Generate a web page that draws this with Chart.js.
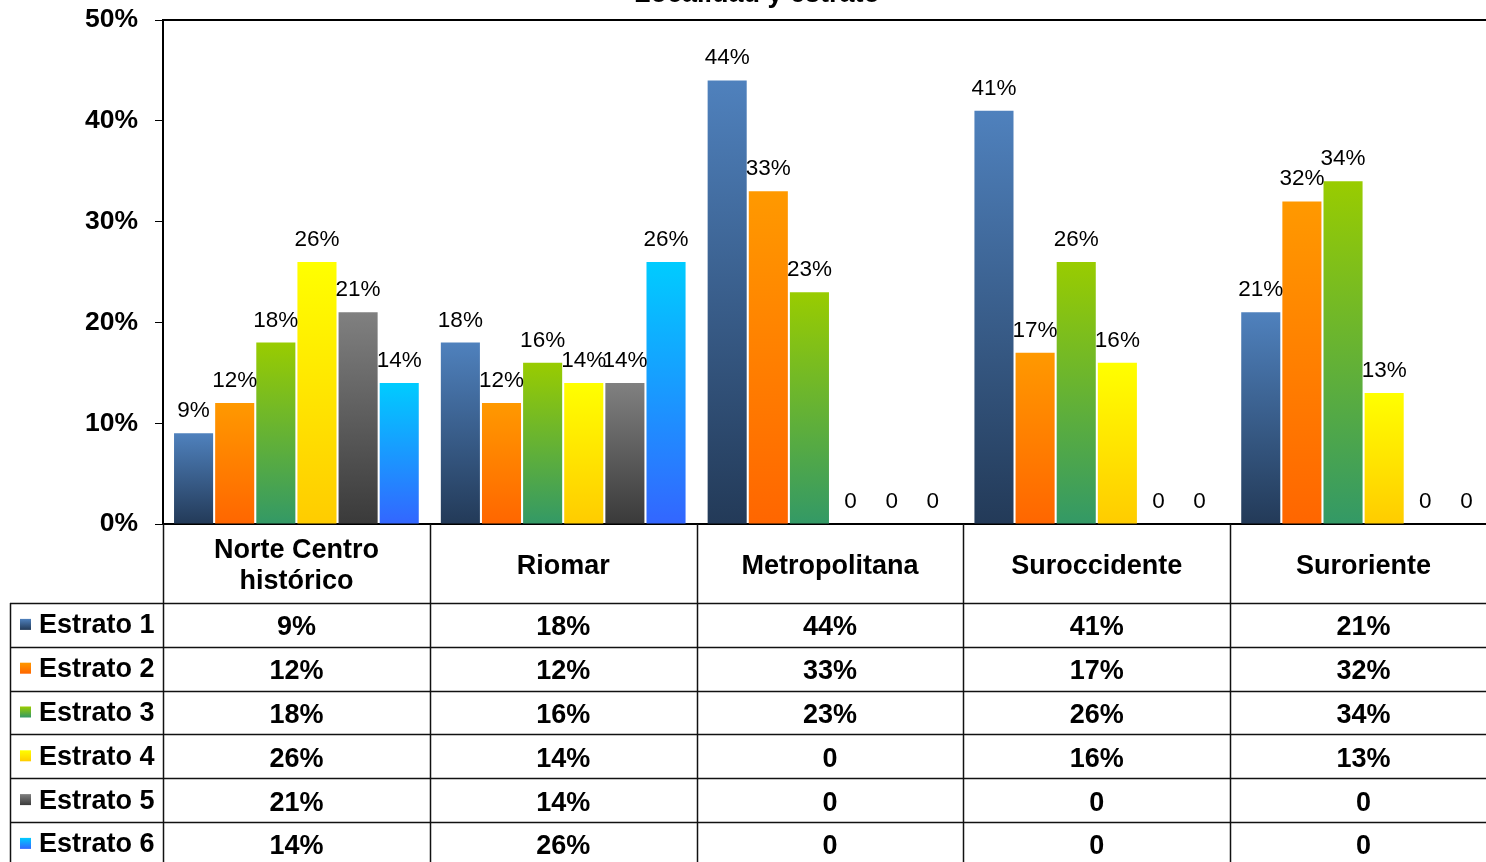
<!DOCTYPE html>
<html>
<head>
<meta charset="utf-8">
<script src="https://cdn.jsdelivr.net/npm/chart.js@4"></script>
<style>
  html, body { margin: 0; padding: 0; overflow: hidden; background: #fff; }
  #wrap { position: relative; width: 1497px; height: 862px; }
</style>
</head>
<body>
<div id="wrap"><canvas id="chart1" width="1497" height="862"></canvas></div>
<script>
'use strict';

// data
var titleText = 'Localidad y estrato';
var categories = ['Norte Centro histórico', 'Riomar', 'Metropolitana', 'Suroccidente', 'Suroriente'];
var categoryLines = [['Norte Centro', 'histórico'], ['Riomar'], ['Metropolitana'], ['Suroccidente'], ['Suroriente']];
var seriesNames = ['Estrato 1', 'Estrato 2', 'Estrato 3', 'Estrato 4', 'Estrato 5', 'Estrato 6'];
var estrato1 = [0.09, 0.18, 0.44, 0.41, 0.21];
var estrato2 = [0.12, 0.12, 0.33, 0.17, 0.32];
var estrato3 = [0.18, 0.16, 0.23, 0.26, 0.34];
var estrato4 = [0.26, 0.14, 0, 0.16, 0.13];
var estrato5 = [0.21, 0.14, 0, 0, 0];
var estrato6 = [0.14, 0.26, 0, 0, 0];
var yTicks = [0, 0.1, 0.2, 0.3, 0.4, 0.5];

// gradient colours (top, bottom) per series
var topColors = ['#4f81bd', '#ff9900', '#99cc00', '#ffff00', '#808080', '#00ccff'];
var bottomColors = ['#233a58', '#ff6600', '#339966', '#ffcc00', '#3a3a3a', '#3366ff'];

var allSeries = [estrato1, estrato2, estrato3, estrato4, estrato5, estrato6];
var boldFont = 'bold 27px "Liberation Sans", Arial, sans-serif';

function pctText(v){
  if(v === 0){
    return '0';
  }
  return Math.round(v * 100) + '%';
}

function barGradient(i){
  return function(ctx){
    var chart = ctx.chart;
    if(!chart.chartArea || ctx.raw === undefined){
      return topColors[i];
    }
    var y = chart.scales.y;
    var top = y.getPixelForValue(ctx.raw);
    var bottom = y.getPixelForValue(0);
    if(bottom - top < 1){
      return topColors[i];
    }
    var g = chart.ctx.createLinearGradient(0, top, 0, bottom);
    g.addColorStop(0, topColors[i]);
    g.addColorStop(1, bottomColors[i]);
    return g;
  };
}

var datasets = [];
for (var i = 0; i < allSeries.length; i++) {
  datasets.push({
    label: seriesNames[i],
    data: allSeries[i],
    backgroundColor: barGradient(i),
    borderWidth: 0,
    barPercentage: 0.95,
    categoryPercentage: 0.925
  });
}

// value labels above the bars
var labelPlugin = {
  id: 'barLabels',
  afterDatasetsDraw: function(chart){
    var c = chart.ctx;
    c.save();
    c.font = '22.5px "Liberation Sans", Arial, sans-serif';
    c.fillStyle = '#000';
    c.textAlign = 'center';
    c.textBaseline = 'alphabetic';
    chart.data.datasets.forEach(function(ds, di){
      var meta = chart.getDatasetMeta(di);
      meta.data.forEach(function(el, j){
        c.fillText(pctText(ds.data[j]), el.x, el.y - 16);
      });
    });
    c.restore();
  }
};

// frame, title and data table under the plot
var tablePlugin = {
  id: 'dataTable',
  afterDraw: function(chart){
    var c = chart.ctx;
    var area = chart.chartArea;
    var colW = (area.right - area.left) / categories.length;
    var headerBottom = 603;
    var rowH = 43.8;
    var tableLeft = 10;
    c.save();

    // cut-off title
    c.font = boldFont;
    c.fillStyle = '#000';
    c.textAlign = 'center';
    c.textBaseline = 'alphabetic';
    c.fillText(titleText, 757, 2);

    // top border of plot
    c.strokeStyle = '#000';
    c.lineWidth = 2;
    c.beginPath();
    c.moveTo(area.left, area.top);
    c.lineTo(chart.width, area.top);
    c.stroke();

    // table lines
    c.strokeStyle = '#111';
    c.lineWidth = 1.5;
    c.beginPath();
    for (var k = 0; k < categories.length; k++) {
      var x = Math.round(area.left + k * colW) + 0.5;
      c.moveTo(x, area.bottom);
      c.lineTo(x, chart.height);
    }
    c.moveTo(tableLeft + 0.5, headerBottom);
    c.lineTo(tableLeft + 0.5, chart.height);
    for (var r = 0; r < seriesNames.length; r++) {
      var yy = Math.round(headerBottom + r * rowH) + 0.5;
      c.moveTo(tableLeft, yy);
      c.lineTo(chart.width, yy);
    }
    c.stroke();

    // header
    c.font = boldFont;
    c.textBaseline = 'middle';
    c.textAlign = 'center';
    for (var h = 0; h < categories.length; h++) {
      var cx = area.left + (h + 0.5) * colW;
      var lines = categoryLines[h];
      var mid = (area.bottom + headerBottom) / 2 + 3;
      for (var l = 0; l < lines.length; l++) {
        c.fillText(lines[l], cx, mid + (l - (lines.length - 1) / 2) * 31);
      }
    }

    // rows
    for (var s = 0; s < seriesNames.length; s++) {
      var rowMid = headerBottom + s * rowH + rowH / 2;
      var g = c.createLinearGradient(0, rowMid - 6, 0, rowMid + 5);
      g.addColorStop(0, topColors[s]);
      g.addColorStop(1, bottomColors[s]);
      c.fillStyle = g;
      c.fillRect(20, rowMid - 6, 11, 11);
      c.fillStyle = '#000';
      c.textAlign = 'left';
      c.fillText(seriesNames[s], 39, rowMid + 1);
      c.textAlign = 'center';
      for (var j = 0; j < categories.length; j++) {
        c.fillText(pctText(allSeries[s][j]), area.left + (j + 0.5) * colW, rowMid + 3);
      }
    }
    c.restore();
  }
};

var ctx = document.getElementById('chart1').getContext('2d');
new Chart(ctx, {
  type: 'bar',
  data: { labels: categories, datasets: datasets },
  options: {
    responsive: false,
    animation: false,
    devicePixelRatio: 1,
    layout: { padding: { left: 0, top: 20, right: 0, bottom: 338 } },
    plugins: {
      legend: { display: false },
      tooltip: { enabled: false },
      title: { display: false }
    },
    scales: {
      x: {
        grid: { display: false },
        ticks: { display: false },
        border: { display: true, color: '#000', width: 2 },
        afterFit: function(scale){
          scale.height = 0;
          scale.paddingLeft = 0;
          scale.paddingRight = 0;
        }
      },
      y: {
        min: 0,
        max: 0.5,
        afterBuildTicks: function(scale){
          scale.ticks = yTicks.map(function(v){ return { value: v }; });
        },
        ticks: {
          padding: 17,
          color: '#000',
          font: { family: '"Liberation Sans", Arial, sans-serif', size: 26.5, weight: 'bold' },
          callback: function(v){ return Math.round(v * 100) + '%'; }
        },
        grid: { drawOnChartArea: false, drawTicks: true, tickLength: 8, color: '#000' },
        border: { display: true, color: '#000', width: 2 },
        afterFit: function(scale){
          scale.width = 163;
          scale.paddingTop = 0;
          scale.paddingBottom = 0;
        }
      }
    }
  },
  plugins: [labelPlugin, tablePlugin]
});
</script>
</body>
</html>
